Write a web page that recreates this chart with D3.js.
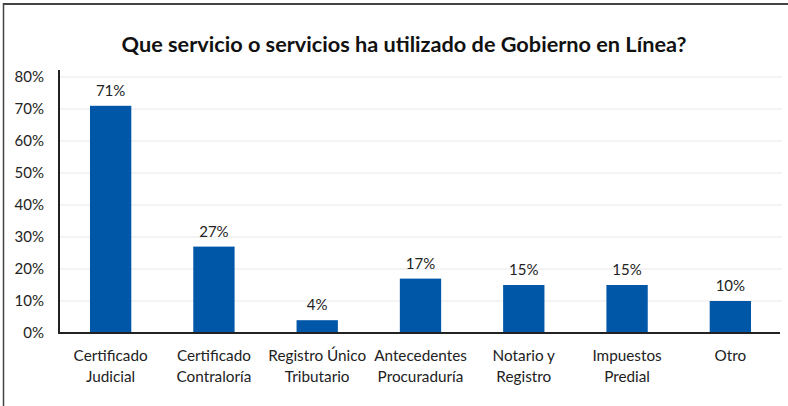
<!DOCTYPE html>
<html><head><meta charset="utf-8">
<script src="https://cdn.jsdelivr.net/npm/d3@7"></script>
<style>body{margin:0;background:#fff;}svg{display:block;font-family:Lato,"Open Sans",sans-serif;}</style>
</head><body>
<svg id="c" width="788" height="406"></svg>
<script>
const categories = [["Certificado","Judicial"],["Certificado","Contraloría"],["Registro Único","Tributario"],["Antecedentes","Procuraduría"],["Notario y","Registro"],["Impuestos","Predial"],["Otro"]];
const values = [71, 27, 4, 17, 15, 15, 10];
const yTicks = [0,10,20,30,40,50,60,70,80];
const title = "Que servicio o servicios ha utilizado de Gobierno en Línea?";

const svg = d3.select("#c");
const m = {left:59, right:782, top:77, bottom:333};
svg.append("line").attr("x1",3.5).attr("x2",788).attr("y1",4).attr("y2",4).attr("stroke","#444").attr("stroke-width",2);
svg.append("line").attr("x1",3.5).attr("x2",3.5).attr("y1",3).attr("y2",406).attr("stroke","#444").attr("stroke-width",1.5);

svg.append("text").attr("x",404).attr("y",52).attr("text-anchor","middle")
  .attr("font-size",21.7).attr("font-weight","bold").attr("fill","#111").text(title);

const x = d3.scaleBand().domain(d3.range(categories.length)).range([m.left,m.right]).paddingInner(0.6).paddingOuter(0.3);
const y = d3.scaleLinear().domain([0,80]).range([m.bottom,m.top]);

svg.append("g").selectAll("line").data(yTicks.slice(1)).join("line")
  .attr("x1",m.left).attr("x2",m.right).attr("y1",d=>y(d)).attr("y2",d=>y(d)).attr("stroke","#e8e8e8").attr("stroke-width",1);

const ya = svg.append("g").attr("transform",`translate(${m.left},0)`)
  .call(d3.axisLeft(y).tickValues(yTicks).tickFormat(d=>d+"%").tickSize(0).tickPadding(15));
ya.select(".domain").remove();
ya.selectAll("text").attr("font-size",15).attr("fill","#222").style("font-family","Lato,'Open Sans',sans-serif");

svg.append("g").selectAll("rect").data(values).join("rect")
  .attr("x",(d,i)=>x(i)).attr("width",x.bandwidth()).attr("y",d=>y(d)).attr("height",d=>y(0)-y(d)).attr("fill","#0057A8");

svg.append("g").selectAll("text").data(values).join("text")
  .attr("x",(d,i)=>x(i)+x.bandwidth()/2).attr("y",d=>y(d)-10).attr("text-anchor","middle")
  .attr("font-size",15).attr("fill","#222").text(d=>d+"%");

svg.append("line").attr("x1",m.left).attr("x2",m.left).attr("y1",70).attr("y2",m.bottom+1).attr("stroke","#222").attr("stroke-width",2);
svg.append("line").attr("x1",m.left-1).attr("x2",780).attr("y1",m.bottom).attr("y2",m.bottom).attr("stroke","#222").attr("stroke-width",2);

const cl = svg.append("g").selectAll("text").data(categories).join("text")
  .attr("text-anchor","middle").attr("font-size",15.3).attr("fill","#222");
cl.each(function(d,i){
  const t=d3.select(this);
  d.forEach((s,j)=>t.append("tspan").attr("x",x(i)+x.bandwidth()/2).attr("y",361+j*21).text(s));
});
</script>
</body></html>
